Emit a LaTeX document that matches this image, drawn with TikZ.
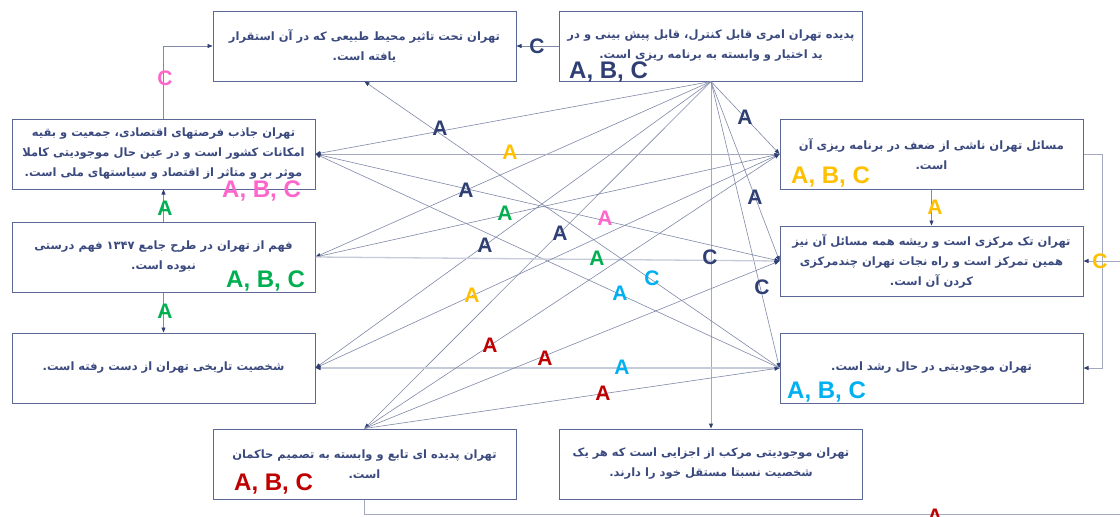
\documentclass[tikz,border=0pt]{standalone}
\usepackage{fontspec}
\setmainfont{Liberation Sans}
\newfontfamily\fa[Script=Arabic]{DejaVu Sans}
\TeXXeTstate=1
\usetikzlibrary{arrows.meta}
\definecolor{txt}{HTML}{3B4A7E}
\definecolor{boxc}{HTML}{5B6896}
\definecolor{lnc}{HTML}{8089A8}
\definecolor{lnl}{HTML}{C6CBD9}
\definecolor{lnm}{HTML}{A3AABD}
\definecolor{cnavy}{HTML}{2F3F73}
\definecolor{cpink}{HTML}{FF66CC}
\definecolor{cgreen}{HTML}{00B050}
\definecolor{cyell}{HTML}{FFC000}
\definecolor{ccyan}{HTML}{00B0F0}
\definecolor{cred}{HTML}{C00000}
\tikzset{
  box/.style={draw=boxc, line width=1pt, minimum width=303pt, minimum height=70pt,
    inner sep=2pt, align=center, text=txt, fill=white,
    font=\fa\bfseries\fontsize{11.5}{20}\selectfont},
  conn/.style={draw=lnc, line width=0.6pt, arrows={-{Triangle[length=5pt,width=4pt,fill=cnavy,color=cnavy]}}},
  connl/.style={conn, draw=lnl, line width=1.3pt},
  connm/.style={conn, draw=lnm, line width=1pt},
  lab/.style={anchor=base, inner sep=0pt, font=\bfseries\fontsize{21}{21}\selectfont},
  abc/.style={anchor=base west, inner sep=0pt, font=\bfseries\fontsize{24}{24}\selectfont}
}
\begin{document}
\begin{tikzpicture}[x=1pt,y=-1pt]
\clip (0,0) rectangle (1120,517);
\fill[white] (0,0) rectangle (1120,517);
% boxes
\node[box] (N1) at (364.5,46) {\beginR تهران تحت تاثیر محیط طبیعی که در آن استقرار\endR\\\beginR یافته است.\endR};
\node[box] (N2) at (711,46) {\beginR پدیده تهران امری قابل کنترل، قابل پیش بینی و در\endR\\\beginR ید اختیار و وابسته به برنامه ریزی است.\endR};
\node[box] (L1) at (163.5,154) {\beginR تهران جاذب فرصتهای اقتصادی، جمعیت و بقیه\endR\\\beginR امکانات کشور است و در عین حال موجودیتی کاملا\endR\\\beginR موثر بر و متاثر از اقتصاد و سیاستهای ملی است.\endR};
\node[box] (L2) at (163.5,257) {\beginR فهم از تهران در طرح جامع \beginL۱۳۴۷\endL{} فهم درستی\endR\\\beginR نبوده است.\endR};
\node[box] (L3) at (163.5,368) {\beginR شخصیت تاریخی تهران از دست رفته است.\endR};
\node[box] (R1) at (931.5,154) {\beginR مسائل تهران ناشی از ضعف در برنامه ریزی آن\endR\\\beginR است.\endR};
\node[box] (R2) at (931.5,261) {\beginR تهران تک مرکزی است و ریشه همه مسائل آن نیز\endR\\\beginR همین تمرکز است و راه نجات تهران چندمرکزی\endR\\\beginR کردن آن است.\endR};
\node[box] (R3) at (931.5,368) {\beginR تهران موجودیتی در حال رشد است.\endR};
\node[box] (B1) at (364.5,464) {\beginR تهران پدیده ای تابع و وابسته به تصمیم حاکمان\endR\\\beginR است.\endR};
\node[box] (B2) at (711,464) {\beginR تهران موجودیتی مرکب از اجزایی است که هر یک\endR\\\beginR شخصیت نسبتا مستقل خود را دارند.\endR};
% free ends
\coordinate (rEdge) at (1135,261);
\coordinate (bEdge) at (1135,514);
% connectors
\draw[conn] (N2.west) -- (N1.east);
\draw[conn] (L1.north) |- (N1.west);
\draw[conn] (L2.north) -- (L1.south);
\draw[conn] (L2.south) -- (L3.north);
\draw[conn] (R1.south) -- (R2.north);
\draw[connm] (R1.east) -| (1102,368) -- (R3.east);
\draw[connm] (rEdge) -- (R2.east);
\draw[connm] (B1.south) |- (bEdge);
\draw[conn] (N2.south) -- (L1.east);
\draw[conn] (N2.south) -- (L2.east);
\draw[conn] (N2.south) -- (L3.east);
\draw[conn] (N2.south) -- (B1.north);
\draw[connm] (N2.south) -- (B2.north);
\draw[conn] (N2.south) -- (R1.west);
\draw[conn] (N2.south) -- (R2.west);
\draw[conn] (N2.south) -- (R3.west);
\draw[connm] (R1.west) -- (L1.east);
\draw[conn] (L1.east) -- (R2.west);
\draw[conn] (R3.west) -- (L1.east);
\draw[conn] (L2.east) -- (R1.west);
\draw[connl] (L2.east) -- (R2.west);
\draw[conn] (R1.west) -- (L3.east);
\draw[connl] (R3.west) -- (L3.east);
\draw[conn] (B1.north) -- (R1.west);
\draw[conn] (B1.north) -- (R2.west);
\draw[conn] (B1.north) -- (R3.west);
\draw[conn] (R3.west) -- (N1.south);
% labels on connectors
\node[lab,text=cnavy] (t1) at (537,53) {C};
\node[lab,text=cpink] (t2) at (165,85) {C};
\node[lab,text=cgreen] (t3) at (165,215) {A};
\node[lab,text=cgreen] (t4) at (165,318) {A};
\node[lab,text=cyell] (t5) at (935,214) {A};
\node[lab,text=cyell] (t6) at (1100,268) {C};
\node[lab,text=cnavy] (t7) at (440,135) {A};
\node[lab,text=cyell] (t8) at (510,159) {A};
\node[lab,text=cnavy] (t9) at (466,197) {A};
\node[lab,text=cgreen] (t10) at (505,220) {A};
\node[lab,text=cpink] (t11) at (605,225) {A};
\node[lab,text=cnavy] (t12) at (560,240) {A};
\node[lab,text=cnavy] (t13) at (485,252) {A};
\node[lab,text=cgreen] (t14) at (597,265) {A};
\node[lab,text=cnavy] (t15) at (710,264) {C};
\node[lab,text=ccyan] (t16) at (652,285) {C};
\node[lab,text=cnavy] (t17) at (762,294) {C};
\node[lab,text=ccyan] (t18) at (620,300) {A};
\node[lab,text=cyell] (t19) at (472,302) {A};
\node[lab,text=cred] (t20) at (490,352) {A};
\node[lab,text=cred] (t21) at (545,365) {A};
\node[lab,text=ccyan] (t22) at (622,374) {A};
\node[lab,text=cred] (t23) at (603,400) {A};
\node[lab,text=cnavy] (t24) at (745,124) {A};
\node[lab,text=cnavy] (t25) at (755,204) {A};
\node[lab,text=cred] (t26) at (935,523) {A};
% A, B, C labels
\node[abc,text=cnavy] (a1) at (569,78) {A, B, C};
\node[abc,text=cpink] (a2) at (222,197) {A, B, C};
\node[abc,text=cgreen] (a3) at (226,287) {A, B, C};
\node[abc,text=cyell] (a4) at (791,183) {A, B, C};
\node[abc,text=ccyan] (a5) at (787,398) {A, B, C};
\node[abc,text=cred] (a6) at (234,490) {A, B, C};
\end{tikzpicture}
\end{document}
